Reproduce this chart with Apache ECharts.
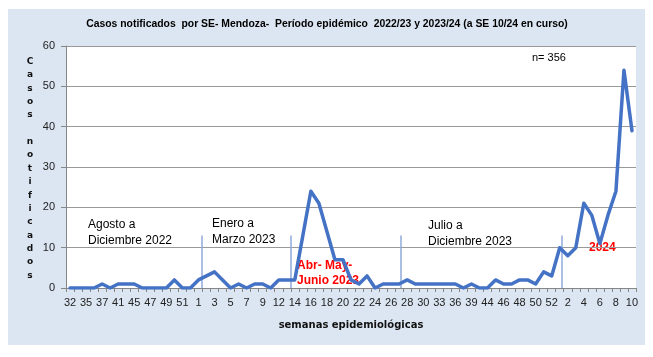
<!DOCTYPE html>
<html>
<head>
<meta charset="utf-8">
<script src="https://cdn.jsdelivr.net/npm/echarts@6/dist/echarts.min.js"></script>
<style>
html,body{margin:0;padding:0;background:#fff;}
#chart{width:653px;height:357px;}
</style>
</head>
<body>
<div id="chart"></div>
<script>
// Semanas epidemiológicas (categorías)
var weeks = ['32','34','35','36','37','38','41','43','45','46','47','48','49','50','51','52',
  '1','2','3','4','5','6','7','8','9','11','12','13','14','15','16','17','18','19','20','21','22','23','24','25','26','27','28','29','30','31','33','34','36','37','39','41','44','45','46','47','48','49','50','51','52',
  '1','2','3','4','5','6','7','8','9','10'];
// Casos notificados por SE
var cases = [0,0,0,0,1,0,1,1,1,0,0,0,0,2,0,0,
  2,3,4,2,0,1,0,1,1,0,2,2,2,13,24,21,14,7,7,2,1,3,0,1,1,1,2,1,1,1,1,1,1,0,1,0,0,2,1,1,2,2,1,4,3,
  10,8,10,21,18,11,18,24,54,39];
var yTicks = [0,10,20,30,40,50,60];
// Separadores de período (en unidades de categoría desde el borde izquierdo)
var dividerPositions = [16.9, 28.0, 41.7, 61.8];
var dividerTop = 13;

var chart = echarts.init(document.getElementById('chart'));
var txt = '#000';
var option = {
  animation: false,
  backgroundColor: '#ffffff',
  textStyle: {fontFamily: 'Liberation Sans Narrow, Liberation Sans, sans-serif'},
  graphic: [
    {type: 'rect', z: -10, shape: {x: 8, y: 9, width: 637, height: 336}, style: {fill: '#dce6f2'}},
    {type: 'rect', z: -9, shape: {x: 66, y: 46, width: 570, height: 242}, style: {fill: '#ffffff'}},
    {type: 'text', x: 327, y: 19, style: {text: 'Casos notificados  por SE- Mendoza-  Período epidémico  2022/23 y 2023/24 (a SE 10/24 en curso)', font: 'bold 10.4px "Liberation Sans Narrow", sans-serif', fill: txt, align: 'center'}},
    {type: 'text', x: 30, y: 55, style: {text: 'C\na\ns\no\ns\n \nn\no\nt\ni\nf\ni\nc\na\nd\no\ns', font: 'bold 9px "DejaVu Sans", sans-serif', fill: '#111', align: 'center', lineHeight: 13.35}},
    {type: 'text', x: 88, y: 216, style: {text: 'Agosto a\nDiciembre 2022', font: '12px "Liberation Sans Narrow", sans-serif', fill: txt, lineHeight: 16.5}},
    {type: 'text', x: 212, y: 215, style: {text: 'Enero a\nMarzo 2023', font: '12px "Liberation Sans Narrow", sans-serif', fill: txt, lineHeight: 16.5}},
    {type: 'text', x: 428, y: 217, style: {text: 'Julio a\nDiciembre 2023', font: '12px "Liberation Sans Narrow", sans-serif', fill: txt, lineHeight: 16.5}},
    {type: 'text', x: 297, y: 258, style: {text: 'Abr- May-\nJunio 2023', font: 'bold 12px "Liberation Sans Narrow", sans-serif', fill: '#ff0000', lineHeight: 15}},
    {type: 'text', x: 589, y: 242, style: {text: '2024', font: 'bold 12px "Liberation Sans", sans-serif', fill: '#ff0000'}},
    {type: 'text', x: 532, y: 52, style: {text: 'n= 356', font: '11px "Liberation Sans Narrow", sans-serif', fill: txt}}
  ],
  grid: {left: 66, right: 17, top: 46, bottom: 69, containLabel: false},
  xAxis: [
    {
      type: 'category', data: weeks, boundaryGap: true,
      axisLine: {show: true, lineStyle: {color: '#868686', width: 1}},
      axisTick: {show: true, interval: 0, length: 4, alignWithLabel: false, lineStyle: {color: '#868686'}},
      axisLabel: {interval: 1, fontSize: 11, color: '#222', margin: 9, fontFamily: 'Liberation Sans Narrow, sans-serif'},
      splitLine: {show: false},
      name: 'semanas epidemiológicas', nameLocation: 'middle', nameGap: 32,
      nameTextStyle: {fontWeight: 'bold', fontSize: 10, color: '#111', fontFamily: 'DejaVu Sans, sans-serif'}
    },
    {type: 'value', min: 0, max: weeks.length, show: false, position: 'bottom'}
  ],
  yAxis: {
    type: 'value', min: yTicks[0], max: yTicks[yTicks.length - 1], interval: 10,
    axisLine: {show: true, lineStyle: {color: '#868686'}},
    axisTick: {show: true, length: 5, lineStyle: {color: '#868686'}},
    axisLabel: {fontSize: 11, color: '#222', margin: 11, fontFamily: 'Liberation Sans Narrow, sans-serif'},
    splitLine: {show: true, lineStyle: {color: '#999999', width: 1}}
  },
  series: [
    {
      type: 'line', xAxisIndex: 0, data: cases, symbol: 'none', smooth: false,
      lineStyle: {color: '#4472c4', width: 3.5, join: 'round', cap: 'round'},
      z: 5
    },
    {
      type: 'line', xAxisIndex: 1, data: [], symbol: 'none',
      markLine: {
        silent: true, symbol: ['none', 'none'], label: {show: false},
        lineStyle: {color: '#8faadc', width: 1.5, type: 'solid'},
        data: dividerPositions.map(function (p) { return [{coord: [p, 0]}, {coord: [p, dividerTop]}]; })
      },
      z: 3
    }
  ]
};
chart.setOption(option);
</script>
</body>
</html>
